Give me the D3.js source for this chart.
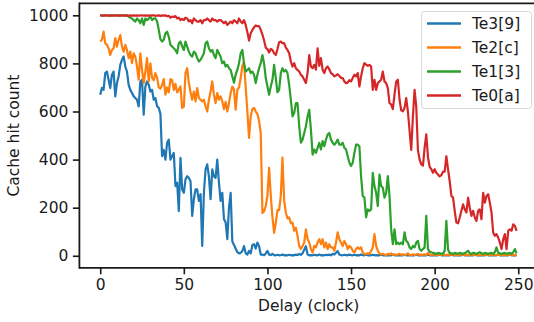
<!DOCTYPE html>
<html>
<head>
<meta charset="utf-8">
<script src="https://cdn.jsdelivr.net/npm/d3@7"></script>
<style>
  html, body { margin: 0; padding: 0; background: #fff; }
  svg { display: block; font-family: "DejaVu Sans", sans-serif; }
</style>
</head>
<body>
<svg id="chart" width="534" height="322"></svg>
<script>
// Delay values in clock cycles (one sample per cycle)
const delays = d3.range(0, 250);

const te3 = [
  670, 698, 690, 760, 766, 732, 698, 753, 766, 663,
  718, 746, 794, 815, 829, 787, 766, 711, 690, 677,
  663, 656, 649, 621, 725, 732, 587, 704, 725, 711,
  683, 690, 649, 656, 622, 615, 590, 414, 440, 400,
  470, 483, 400, 414, 428, 290, 304, 186, 407, 276,
  262, 318, 331, 324, 310, 166, 235, 276, 276, 228,
  256, 41, 262, 359, 380, 330, 235, 359, 331, 324,
  400, 304, 228, 262, 152, 140, 69, 200, 262, 60,
  45, 30, 15, 10, 12, 20, 40, 10, 5, 20,
  10, 45, 48, 30, 55, 40, 5, 5, 2, 10,
  20, 5, 3, 8, 3, 2, 4, 2, 3, 5,
  2, 3, 2, 4, 2, 3, 2, 5, 3, 8,
  4, 10, 25, 40, 5, 2, 3, 2, 4, 3,
  2, 5, 2, 3, 2, 4, 3, 5, 2, 8,
  5, 12, 20, 5, 3, 2, 4, 3, 2, 5,
  3, 2, 4, 2, 3, 2, 5, 3, 2, 4,
  2, 3, 2, 4, 3, 2, 3, 2, 4, 2,
  3, 2, 2, 3, 2, 4, 2, 3, 2, 2,
  3, 2, 4, 2, 3, 2, 2, 3, 2, 4,
  2, 3, 2, 2, 3, 2, 4, 2, 3, 2,
  2, 3, 2, 4, 2, 3, 2, 2, 3, 2,
  4, 2, 3, 2, 2, 3, 2, 4, 2, 3,
  2, 2, 3, 2, 4, 2, 3, 2, 2, 3,
  2, 4, 2, 3, 2, 2, 3, 2, 4, 2,
  3, 2, 2, 3, 2, 4, 2, 3, 2, 2
];

const te2 = [
  891, 898, 932, 884, 877, 863, 835, 856, 863, 905,
  870, 898, 918, 870, 849, 877, 856, 822, 849, 801,
  842, 828, 787, 732, 842, 774, 718, 766, 822, 725,
  800, 740, 730, 760, 740, 700, 695, 710, 735, 670,
  700, 680, 735, 730, 690, 715, 680, 690, 704, 615,
  620, 760, 780, 720, 680, 649, 683, 642, 697, 656,
  649, 642, 649, 622, 600, 649, 683, 725, 670, 635,
  677, 649, 663, 642, 610, 640, 600, 635, 677, 704,
  690, 608, 690, 700, 740, 790, 805, 700, 600, 490,
  580, 610, 615, 600, 590, 560, 510, 178, 185, 207,
  250, 366, 250, 160, 95, 138, 190, 190, 250, 408,
  230, 180, 155, 160, 135, 138, 104, 117, 83, 41,
  28, 41, 55, 110, 70, 55, 28, 14, 41, 35,
  55, 69, 48, 69, 35, 55, 28, 48, 35, 35,
  21, 55, 97, 69, 55, 41, 62, 48, 28, 41,
  35, 21, 14, 28, 35, 28, 35, 14, 7, 7,
  10, 7, 20, 35, 90, 41, 21, 10, 5, 8,
  5, 3, 8, 5, 10, 4, 6, 3, 5, 8,
  4, 6, 3, 5, 10, 4, 3, 6, 4, 5,
  8, 3, 5, 4, 6, 3, 12, 5, 3, 4,
  6, 3, 4, 5, 3, 8, 4, 3, 5, 3,
  4, 6, 3, 5, 4, 3, 6, 4, 3, 5,
  3, 4, 6, 3, 4, 5, 3, 4, 3, 6,
  4, 3, 5, 4, 3, 6, 4, 3, 5, 3,
  4, 3, 5, 3, 4, 6, 3, 4, 3, 5
];

const te1 = [
  1000, 1000, 999, 1000, 1000, 999, 1000, 1000, 998, 1000,
  1000, 999, 1000, 1000, 998, 1000, 999, 995, 990, 987,
  980, 974, 987, 980, 967, 987, 960, 987, 980, 987,
  994, 980, 987, 987, 975, 940, 900, 891, 898, 925,
  932, 911, 877, 870, 863, 856, 842, 884, 891, 870,
  856, 891, 870, 849, 835, 828, 849, 842, 822, 808,
  815, 828, 842, 884, 891, 863, 849, 856, 835, 822,
  856, 842, 828, 801, 808, 787, 794, 780, 773, 746,
  720, 753, 773, 801, 842, 856, 800, 766, 773, 780,
  760, 766, 753, 718, 753, 780, 801, 835, 800, 739,
  704, 670, 704, 732, 794, 739, 680, 690, 760, 780,
  766, 773, 760, 711, 649, 580, 594, 635, 635, 539,
  470, 483, 511, 539, 580, 607, 525, 421, 442, 428,
  449, 470, 442, 477, 456, 483, 504, 511, 483, 470,
  462, 470, 483, 462, 462, 470, 449, 442, 414, 387,
  373, 387, 428, 462, 462, 455, 330, 249, 242, 160,
  193, 187, 193, 345, 290, 262, 207, 338, 290, 283,
  242, 262, 331, 249, 110, 48, 110, 48, 55, 48,
  55, 48, 97, 62, 55, 35, 28, 41, 35, 55,
  62, 28, 21, 28, 35, 166, 28, 17, 15, 12,
  10, 8, 12, 10, 8, 10, 20, 145, 25, 12,
  10, 8, 12, 10, 8, 12, 10, 8, 12, 15,
  21, 10, 8, 12, 10, 8, 12, 15, 10, 8,
  12, 10, 8, 10, 12, 8, 15, 35, 12, 10,
  8, 10, 12, 8, 10, 12, 8, 15, 28, 10
];

const te0 = [
  998, 1000, 999, 1000, 1000, 998, 1000, 999, 1000, 1000,
  999, 1000, 998, 1000, 1000, 999, 1000, 997, 1000, 999,
  1000, 999, 1000, 998, 1000, 1000, 999, 1000, 998, 1000,
  999, 1000, 1000, 998, 999, 1000, 997, 1000, 999, 1000,
  996, 998, 990, 995, 993, 997, 987, 990, 980, 985,
  980, 990, 987, 975, 980, 967, 987, 980, 974, 974,
  980, 967, 980, 980, 987, 980, 974, 987, 980, 980,
  974, 980, 980, 974, 967, 974, 960, 967, 974, 967,
  980, 974, 967, 987, 974, 967, 980, 960, 930, 895,
  925, 939, 950, 958, 955, 955, 940, 920, 895, 865,
  860, 845, 860, 856, 842, 835, 860, 888, 891, 884,
  884, 866, 856, 842, 808, 787, 801, 780, 773, 766,
  753, 746, 732, 718, 760, 835, 787, 780, 794, 774,
  863, 790, 822, 774, 760, 780, 787, 775, 760, 755,
  746, 750, 755, 748, 740, 739, 725, 718, 720, 730,
  725, 739, 753, 746, 760, 704, 746, 780, 801, 795,
  790, 794, 787, 690, 732, 690, 718, 725, 732, 766,
  725, 718, 697, 635, 630, 610, 670, 725, 732, 650,
  605, 601, 615, 656, 600, 520, 440, 580, 690, 620,
  440, 400, 380, 375, 450, 505, 410, 370, 360, 345,
  360, 345, 338, 330, 335, 350, 350, 414, 360, 310,
  249, 242, 187, 138, 135, 159, 187, 214, 193, 180,
  242, 200, 166, 187, 159, 145, 187, 193, 152, 262,
  221, 249, 256, 221, 180, 97, 83, 90, 76, 55,
  28, 69, 90, 28, 104, 110, 104, 131, 124, 104
];

const seriesNames = ["Te3[9]", "Te2[c]", "Te1[3]", "Te0[a]"];
const seriesValues = [te3, te2, te1, te0];
const seriesColors = ["#1f77b4", "#ff7f0e", "#2ca02c", "#d62728"];

const xTicks = [0, 50, 100, 150, 200, 250];
const yTicks = [0, 200, 400, 600, 800, 1000];

const xLabel = "Delay (clock)";
const yLabel = "Cache hit count";

// ---- layout ----
const svg = d3.select("#chart");
const FONT = 15.5;
const ink = "#1a1a1a";

const x = d3.scaleLinear().domain([-12.45, 261.45]).range([79.4, 537.4]);
const y = d3.scaleLinear().domain([-50, 1050]).range([267.8, 3.3]);

const plotLeft = x.range()[0], plotRight = x.range()[1];
const plotTop = y.range()[1], plotBottom = y.range()[0];

// clip lines to the axes area
svg.append("defs").append("clipPath").attr("id", "plot-clip")
  .append("rect")
  .attr("x", plotLeft).attr("y", plotTop)
  .attr("width", plotRight - plotLeft).attr("height", plotBottom - plotTop);

// series lines
const line = d3.line()
  .x((d, i) => x(delays[i]))
  .y(d => y(d));

const linesG = svg.append("g").attr("clip-path", "url(#plot-clip)");
seriesValues.forEach((vals, k) => {
  linesG.append("path")
    .datum(vals)
    .attr("fill", "none")
    .attr("stroke", seriesColors[k])
    .attr("stroke-width", 2.2)
    .attr("stroke-linejoin", "round")
    .attr("stroke-linecap", "butt")
    .attr("d", line);
});

// axes
const xAxis = d3.axisBottom(x).tickValues(xTicks).tickSize(6.5).tickPadding(4.5)
  .tickFormat(d3.format("d"));
const yAxis = d3.axisLeft(y).tickValues(yTicks).tickSize(6.5).tickPadding(4.5)
  .tickFormat(d3.format("d"));

const gx = svg.append("g").attr("transform", `translate(0,${plotBottom})`).call(xAxis);
const gy = svg.append("g").attr("transform", `translate(${plotLeft},0)`).call(yAxis);

[gx, gy].forEach(g => {
  g.select(".domain").remove();
  g.selectAll(".tick line").attr("stroke", ink).attr("stroke-width", 1.6);
  g.selectAll(".tick text")
    .attr("fill", ink)
    .attr("font-family", "DejaVu Sans")
    .attr("font-size", FONT);
});

// spines (left, bottom, top; right lies just past the canvas edge)
const spines = svg.append("g")
  .attr("stroke", ink).attr("stroke-width", 1.8).attr("fill", "none");
spines.append("line").attr("x1", plotLeft).attr("x2", plotLeft)
  .attr("y1", plotTop - 0.9).attr("y2", plotBottom + 0.9);
spines.append("line").attr("x1", plotLeft).attr("x2", plotRight)
  .attr("y1", plotBottom).attr("y2", plotBottom);
spines.append("line").attr("x1", plotLeft).attr("x2", plotRight)
  .attr("y1", plotTop).attr("y2", plotTop);
spines.append("line").attr("x1", plotRight).attr("x2", plotRight)
  .attr("y1", plotTop).attr("y2", plotBottom);

// axis labels
svg.append("text")
  .attr("x", (x(0) + x(250)) / 2 - 0.5)
  .attr("y", 311)
  .attr("text-anchor", "middle")
  .attr("fill", ink)
  .attr("font-size", FONT)
  .text(xLabel);

svg.append("text")
  .attr("transform", `translate(18.5,${(plotTop + plotBottom) / 2}) rotate(-90)`)
  .attr("text-anchor", "middle")
  .attr("fill", ink)
  .attr("font-size", FONT)
  .text(yLabel);

// legend
const legend = svg.append("g").attr("transform", "translate(421,11)");
legend.append("rect")
  .attr("x", 0.5).attr("y", 0.5)
  .attr("width", 110).attr("height", 97)
  .attr("rx", 3).attr("ry", 3)
  .attr("fill", "#fff").attr("fill-opacity", 0.8)
  .attr("stroke", "#d6d6d6").attr("stroke-width", 1);

seriesNames.forEach((name, k) => {
  const cy = 12.5 + k * 24;
  legend.append("line")
    .attr("x1", 6).attr("x2", 40)
    .attr("y1", cy).attr("y2", cy)
    .attr("stroke", seriesColors[k]).attr("stroke-width", 2.6);
  legend.append("text")
    .attr("x", 51).attr("y", cy)
    .attr("dy", "0.36em")
    .attr("fill", ink)
    .attr("font-size", FONT)
    .text(name);
});
</script>
</body>
</html>
